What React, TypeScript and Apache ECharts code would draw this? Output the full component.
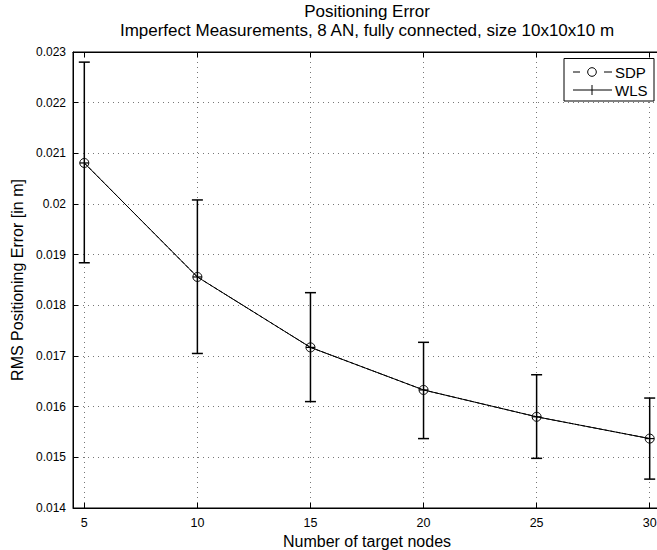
import React, { useEffect, useRef } from "react";
import * as echarts from "echarts";

const nodes = [5, 10, 15, 20, 25, 30];
const sdpRms = [0.02081, 0.01856, 0.01717, 0.01633, 0.0158, 0.01537];
const wlsRms = [0.02081, 0.01856, 0.01717, 0.01633, 0.0158, 0.01537];
const wlsUpper = [0.0228, 0.02008, 0.01825, 0.01727, 0.01663, 0.01617];
const wlsLower = [0.01884, 0.01705, 0.0161, 0.01537, 0.01498, 0.01457];
const xTicks = [5, 10, 15, 20, 25, 30];
const titleLines = ["Positioning Error", "Imperfect Measurements, 8 AN, fully connected, size 10x10x10 m"];
const seriesNames = ["SDP", "WLS"];

const FONT = "'Liberation Sans', Arial, Helvetica, sans-serif";

export default function App() {
  const ref = useRef<HTMLDivElement>(null);
  useEffect(() => {
    if (!ref.current) return;
    const chart = echarts.init(ref.current, null, { renderer: "svg" });
    const errData = nodes.map((x, i) => [x, wlsLower[i], wlsUpper[i], wlsRms[i]]);
    const gridLine = { show: true, lineStyle: { color: "#777", width: 1, type: [1, 4] as any } };
    const legendX1 = 573, legendX2 = 612, legendMid = 592;
    const rowSdp = 72, rowWls = 90;
    chart.setOption({
      animation: false,
      backgroundColor: "#fff",
      textStyle: { fontFamily: FONT, color: "#000" },
      title: [
        { text: titleLines[0], left: 367, top: 3, padding: 0, textAlign: "center", textStyle: { fontFamily: FONT, fontSize: 17, fontWeight: "normal", color: "#000" } },
        { text: titleLines[1], left: 367, top: 22, padding: 0, textAlign: "center", textStyle: { fontFamily: FONT, fontSize: 17, fontWeight: "normal", color: "#000" } },
      ],
      grid: {
        left: 73, width: 588, top: 52, height: 456,
        outerBoundsMode: "none", containLabel: false,
        show: true, borderColor: "#000", borderWidth: 1, backgroundColor: "transparent",
      },
      xAxis: [
        {
          type: "value", min: 4.5, max: 30.5, position: "bottom",
          name: "Number of target nodes", nameLocation: "middle", nameGap: 23,
          nameTextStyle: { fontFamily: FONT, fontSize: 16, color: "#000" },
          axisLine: { show: true, lineStyle: { color: "#000", width: 1 } },
          axisTick: { show: true, inside: true, length: 5, customValues: xTicks, lineStyle: { color: "#000" } },
          axisLabel: { show: true, customValues: xTicks, margin: 8, fontFamily: FONT, fontSize: 12.5, color: "#000", hideOverlap: false },
          splitLine: gridLine,
        },
        {
          type: "value", min: 4.5, max: 30.5, position: "top",
          axisLine: { show: true, lineStyle: { color: "#000", width: 1 } },
          axisTick: { show: true, inside: true, length: 5, customValues: xTicks, lineStyle: { color: "#000" } },
          axisLabel: { show: false },
          splitLine: { show: false },
        },
      ],
      yAxis: {
        type: "value", min: 0.014, max: 0.023, interval: 0.001,
        name: "RMS Positioning Error [in m]", nameLocation: "middle", nameGap: 47, nameRotate: 90,
        nameTextStyle: { fontFamily: FONT, fontSize: 16, color: "#000" },
        axisLine: { show: true, lineStyle: { color: "#000", width: 1 } },
        axisTick: { show: true, inside: true, length: 5, lineStyle: { color: "#000" } },
        axisLabel: { margin: 7, fontFamily: FONT, fontSize: 12, color: "#000", formatter: (v: number) => String(parseFloat(v.toFixed(4))) },
        splitLine: gridLine,
      },
      series: [
        {
          name: "WLS errorbars",
          type: "custom",
          xAxisIndex: 0,
          data: errData,
          z: 3,
          renderItem: (_p: any, api: any) => {
            const x = api.value(0);
            const lo = api.coord([x, api.value(1)]);
            const hi = api.coord([x, api.value(2)]);
            const c = api.coord([x, api.value(3)]);
            const cap = 5.5;
            const st = { stroke: "#000", lineWidth: 1.5, fill: "none" };
            return {
              type: "group",
              children: [
                { type: "line", shape: { x1: lo[0], y1: lo[1], x2: hi[0], y2: hi[1] }, style: st },
                { type: "line", shape: { x1: lo[0] - cap, y1: lo[1], x2: lo[0] + cap, y2: lo[1] }, style: st },
                { type: "line", shape: { x1: hi[0] - cap, y1: hi[1], x2: hi[0] + cap, y2: hi[1] }, style: st },
                { type: "line", shape: { x1: c[0] - 4.5, y1: c[1], x2: c[0] + 4.5, y2: c[1] }, style: { stroke: "#000", lineWidth: 1.2 } },
              ],
            };
          },
        },
        {
          name: seriesNames[1],
          type: "line",
          xAxisIndex: 0,
          data: nodes.map((x, i) => [x, wlsRms[i]]),
          showSymbol: false,
          symbol: "none",
          lineStyle: { color: "#000", width: 1, type: "solid" },
          z: 4,
        },
        {
          name: seriesNames[0],
          type: "line",
          xAxisIndex: 0,
          data: nodes.map((x, i) => [x, sdpRms[i]]),
          symbol: "circle",
          symbolSize: 9,
          itemStyle: { color: "rgba(0,0,0,0)", borderColor: "#000", borderWidth: 1 },
          lineStyle: { color: "#000", width: 1, type: "dashed" },
          z: 5,
        },
      ],
      graphic: [
        { type: "rect", shape: { x: 564, y: 58.5, width: 90, height: 42.5 }, style: { fill: "#fff", stroke: "#000", lineWidth: 1 }, z: 100 },
        { type: "line", shape: { x1: legendX1, y1: rowSdp, x2: 580, y2: rowSdp }, style: { stroke: "#000", lineWidth: 1 }, z: 101 },
        { type: "line", shape: { x1: 604, y1: rowSdp, x2: legendX2, y2: rowSdp }, style: { stroke: "#000", lineWidth: 1 }, z: 101 },
        { type: "circle", shape: { cx: legendMid, cy: rowSdp, r: 4.3 }, style: { fill: "none", stroke: "#000", lineWidth: 1 }, z: 101 },
        { type: "text", x: 615, y: rowSdp, style: { text: seriesNames[0], font: `15px ${FONT}`, fill: "#000", verticalAlign: "middle", align: "left" }, z: 101 },
        { type: "line", shape: { x1: legendX1, y1: rowWls, x2: legendX2, y2: rowWls }, style: { stroke: "#000", lineWidth: 1 }, z: 101 },
        { type: "line", shape: { x1: legendMid, y1: rowWls - 5, x2: legendMid, y2: rowWls + 5 }, style: { stroke: "#000", lineWidth: 1 }, z: 101 },
        { type: "text", x: 615, y: rowWls, style: { text: seriesNames[1], font: `15px ${FONT}`, fill: "#000", verticalAlign: "middle", align: "left" }, z: 101 },
      ],
    });
    return () => chart.dispose();
  }, []);
  return <div ref={ref} style={{ position: "absolute", left: 0, top: 0, width: 657, height: 550 }} />;
}
